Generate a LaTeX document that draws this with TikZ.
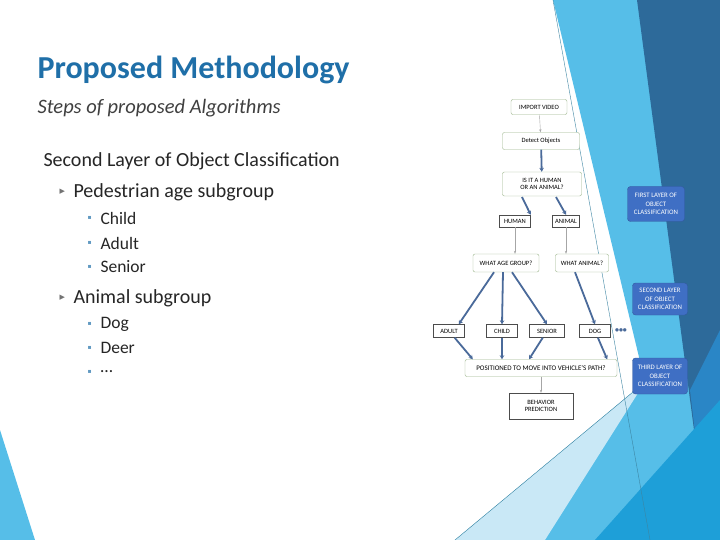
\documentclass[tikz,border=0pt]{standalone}
\usepackage{fontspec}
\setmainfont{Carlito}
\newfontfamily\symfont{DejaVu Sans}
\usetikzlibrary{positioning,arrows.meta}
\definecolor{titleblue}{HTML}{1F6FA8}
\definecolor{darkband}{HTML}{2D6A9A}
\definecolor{midband}{HTML}{2A86C6}
\definecolor{skyband}{HTML}{56BEE8}
\definecolor{paleband}{HTML}{C9E8F6}
\definecolor{brightband}{HTML}{1E9FD8}
\definecolor{layerblue}{HTML}{3F6FC4}
\definecolor{flowarrow}{HTML}{4A6A9A}
\definecolor{boxgreen}{HTML}{9BB58A}
\tikzset{
  stepbox/.style={draw=boxgreen, rounded corners=2pt, fill=white, align=center, font=\fontsize{6.5}{7.5}\selectfont, inner sep=2pt},
  plainbox/.style={draw=black!70, fill=white, align=center, font=\fontsize{6.5}{7.5}\selectfont, inner sep=2pt},
  layerbox/.style={fill=layerblue, draw=layerblue!80!black, rounded corners=3pt, text=white, align=center, font=\fontsize{6.8}{8.5}\selectfont},
  thinarrow/.style={draw=gray!70, -{Stealth[length=3pt]}},
  thickarrow/.style={draw=flowarrow, line width=1.8pt, -{Stealth[length=4pt,width=4.5pt]}},
  bodytext/.style={anchor=west, text=black!85}
}
\begin{document}
\begin{tikzpicture}[x=1pt,y=-1pt]
 \useasboundingbox (0,0) rectangle (720,540);
 %background
 \fill[white] (0,0) rectangle (720,540);
 \fill[skyband] (553,0) -- (720,0) -- (720,540) -- (455,540) -- (645,382) -- cycle;
 \fill[paleband] (455,540) -- (645,382) -- (545,540) -- cycle;
 \fill[darkband] (637,0) -- (720,0) -- (720,430) -- (700,475) -- cycle;
 \fill[midband] (690,390) -- (720,330) -- (720,430) -- (700,475) -- cycle;
 \fill[brightband] (595,540) -- (720,400) -- (720,540) -- cycle;
 \fill[skyband] (0,430) -- (35,540) -- (0,540) -- cycle;
 \draw[skyband!70!black, thin] (553,0) -- (650,540);
 \draw[skyband!70!black, thin] (645,382) -- (455,540);

 %left text
 \node[anchor=west, text=titleblue, font=\fontsize{32}{36}\selectfont\bfseries] (title) at (34,70) {Proposed Methodology};
 \node[anchor=west, text=black!75, font=\fontsize{20.5}{24}\selectfont\itshape] (sub) at (34,108) {Steps of proposed Algorithms};
 \node[bodytext, font=\fontsize{20}{24}\selectfont] (second) at (40,161) {Second Layer of Object Classification};
 \node[bodytext, font=\fontsize{7}{8}\selectfont\symfont, text=black!55] (b1) at (56,192) {▶};
 \node[bodytext, font=\fontsize{20}{24}\selectfont] (ped) at (70,192) {Pedestrian age subgroup};
 \foreach \y/\t in {218/Child, 243/Adult, 267/Senior, 324/Dog, 348/Deer, 372/…}{
   \node[bodytext, font=\fontsize{6}{7}\selectfont\symfont, text=titleblue!70] at (84,\y) {▪};
   \node[bodytext, font=\fontsize{17.5}{20}\selectfont] at (97,\y) {\t};
 }
 \node[bodytext, font=\fontsize{7}{8}\selectfont\symfont, text=black!55] (b2) at (56,298) {▶};
 \node[bodytext, font=\fontsize{20}{24}\selectfont] (animal) at (70,298) {Animal subgroup};

 %flowchart
 \node[stepbox, minimum width=56pt, minimum height=15pt] (import) at (539,107) {IMPORT VIDEO};
 \node[stepbox, minimum width=77pt, minimum height=17pt] (detect) at (541,141) {Detect Objects};
 \node[stepbox, minimum width=79pt, minimum height=24pt] (isit) at (542,184) {IS IT A HUMAN\\OR AN ANIMAL?};
 \node[plainbox, minimum width=31pt, minimum height=12pt] (human) at (515,221) {HUMAN};
 \node[plainbox, minimum width=27pt, minimum height=12pt] (animalbox) at (566,221) {ANIMAL};
 \node[stepbox, minimum width=66pt, minimum height=18pt] (agegroup) at (506,263) {WHAT AGE GROUP?};
 \node[stepbox, minimum width=53pt, minimum height=18pt] (whatanimal) at (582,263) {WHAT ANIMAL?};
 \node[plainbox, minimum width=31pt, minimum height=13pt] (adult) at (449,331) {ADULT};
 \node[plainbox, minimum width=31pt, minimum height=13pt] (child) at (502,331) {CHILD};
 \node[plainbox, minimum width=35pt, minimum height=13pt] (senior) at (547,331) {SENIOR};
 \node[plainbox, minimum width=31pt, minimum height=13pt] (dog) at (595,331) {DOG};
 \node[text=flowarrow, font=\fontsize{4.5}{6}\selectfont\symfont] (more) at (621,330) {●●●};
 \node[stepbox, minimum width=152pt, minimum height=17pt, font=\fontsize{7}{8}\selectfont] (positioned) at (541,368) {POSITIONED TO MOVE INTO VEHICLE'S PATH?};
 \node[plainbox, minimum width=64pt, minimum height=26pt] (behavior) at (541,406) {BEHAVIOR\\PREDICTION};

 %layer boxes
 \node[layerbox, minimum width=57pt, minimum height=35pt] (first) at (656,204) {FIRST LAYER OF\\OBJECT\\CLASSIFICATION};
 \node[layerbox, minimum width=55pt, minimum height=32pt] (secondl) at (660,299) {SECOND LAYER\\OF OBJECT\\CLASSIFICATION};
 \node[layerbox, minimum width=55pt, minimum height=36pt] (third) at (660,376) {THIRD LAYER OF\\OBJECT\\CLASSIFICATION};

 %arrow ends
 \coordinate (isitl) at (522,197);
 \coordinate (isitr) at (556,197);
 \coordinate (agel) at ([xshift=-12pt]agegroup.south);
 \coordinate (agem) at ([xshift=-3pt]agegroup.south);
 \coordinate (ager) at ([xshift=6pt]agegroup.south);
 \coordinate (animl) at ([xshift=-7pt]whatanimal.south);

 %arrows
 \draw[thinarrow] (import) -- (detect);
 \draw[thickarrow] (detect) -- (isit);
 \draw[thickarrow] (isitl) -- (human.north east);
 \draw[thickarrow] (isitr) -- (animalbox.north);
 \draw[thinarrow] (human) -- (human |- agegroup.north);
 \draw[thinarrow] (animalbox) -- (animalbox |- whatanimal.north);
 \draw[thickarrow] (agel) -- ([xshift=-6pt]adult.north east);
 \draw[thickarrow] (agem) -- (child.north);
 \draw[thickarrow] (ager) -- (senior.north);
 \draw[thickarrow] (animl) -- (dog.north);
 \draw[thickarrow] (adult) -- ([xshift=8pt]positioned.north west);
 \draw[thickarrow] (child) -- (child |- positioned.north);
 \draw[thickarrow] (senior) -- ([xshift=-12pt]positioned.north);
 \draw[thickarrow] (dog) -- ([xshift=-10pt]positioned.north east);
 \draw[thinarrow] (positioned) -- (behavior);
\end{tikzpicture}
\end{document}
